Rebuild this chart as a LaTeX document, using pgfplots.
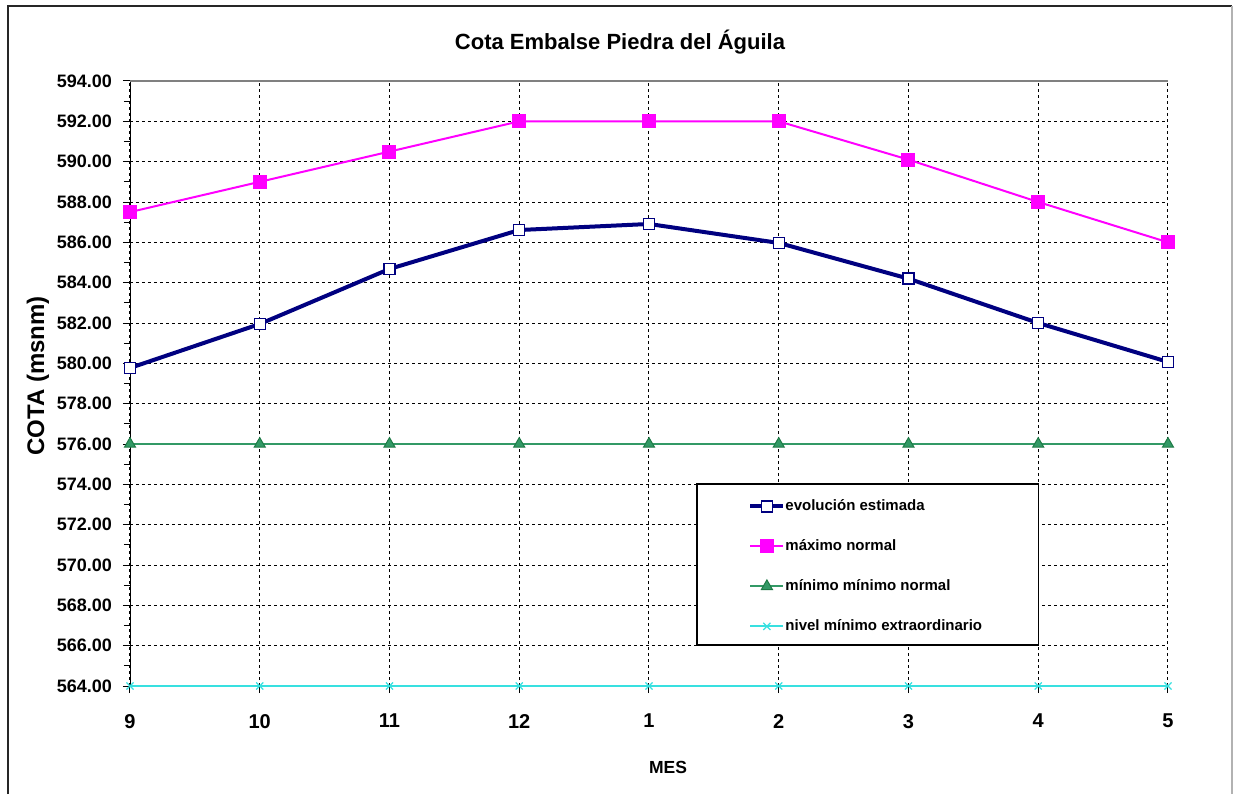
\documentclass[border=0pt]{standalone}
\usepackage{fontspec}
\setmainfont{Liberation Sans}
\usepackage{pgfplots}
\pgfplotsset{compat=1.18}
\definecolor{navyc}{HTML}{000080}
\definecolor{mag}{HTML}{FF00FF}
\definecolor{sea}{HTML}{339966}
\definecolor{seadark}{HTML}{1E7A46}
\definecolor{cy}{HTML}{38E0E0}
\begin{document}
\begin{tikzpicture}
\begin{axis}[name=ax, scale only axis, width=519pt, height=302.5pt,
  xmin=0, xmax=8, ymin=564, ymax=594, clip=false,
  xtick={0,...,8}, xticklabels={9,10,11,12,1,2,3,4,5},
  ytick={564,566,...,594}, minor y tick num=1,
  axis x line*=bottom, axis y line*=left,
  x axis line style={-}, y axis line style={-},
  tick align=outside, major tick length=3.5pt, minor tick length=3pt,
  tick style={black, line width=0.5pt},
  grid=major, major grid style={black, line width=0.5pt, dash pattern=on 1.5pt off 1.5pt},
  yticklabel style={font=\fontsize{9}{10}\selectfont\bfseries, xshift=-2pt,
     /pgf/number format/.cd, fixed, fixed zerofill, precision=2, assume math mode=true},
  xticklabel style={font=\fontsize{10}{11}\selectfont\bfseries, yshift=-7pt},
  legend style={draw=none, fill=none, at={(rel axis cs:0.5954,0.31)}, anchor=north west,
     inner sep=0pt, row sep=12.5pt, font=\fontsize{7.5}{9}\selectfont\bfseries,
     nodes={inner sep=0pt, text height=6pt, text depth=1.5pt}},
  legend cell align=left,
  legend image code/.code={\draw[mark repeat=2,mark phase=2,#1] plot coordinates {(0pt,0pt)(8.25pt,0pt)(16.5pt,0pt)};},
]
\draw[gray, line width=0.6pt] (axis cs:0,594) -- (axis cs:8,594);
\draw[black, fill=white, line width=0.6pt] (axis cs:4.37,566.03) rectangle (axis cs:7,574.02);
\addplot[navyc, line width=2pt, mark=square*, mark size=2.75pt, mark options={fill=white, draw=navyc, line width=0.7pt}]
 coordinates {(0,579.77)(1,581.95)(2,584.68)(3,586.61)(4,586.91)(5,585.97)(6,584.2)(7,582.0)(8,580.07)};
\addlegendentry{evolución estimada}
\addplot[mag, line width=1pt, mark=square*, mark size=3pt, mark options={fill=mag, draw=mag}]
 coordinates {(0,587.5)(1,589)(2,590.5)(3,592)(4,592)(5,592)(6,590.1)(7,588)(8,586)};
\addlegendentry{máximo normal}
\addplot[sea, line width=1pt, mark=triangle*, mark size=3.2pt, mark options={fill=sea, draw=seadark, line width=0.5pt}]
 coordinates {(0,576)(1,576)(2,576)(3,576)(4,576)(5,576)(6,576)(7,576)(8,576)};
\addlegendentry{mínimo mínimo normal}
\addplot[cy, line width=1pt, mark=x, mark size=2.5pt, mark options={draw=cy, line width=0.6pt}]
 coordinates {(0,564)(1,564)(2,564)(3,564)(4,564)(5,564)(6,564)(7,564)(8,564)};
\addlegendentry{nivel mínimo extraordinario}
\end{axis}
\begin{scope}[shift={(ax.south west)}, x=0.5pt, y=-0.5pt, shift={(-130,-686)}]
\useasboundingbox (0,0) rectangle (1233,794);
\draw[black!85, line width=0.8pt] (8,794) -- (8,6) -- (1232,6);
\draw[black!30, line width=0.6pt] (1232,6) -- (1232,794);
\node[font=\fontsize{11}{13}\selectfont\bfseries] at (620,42) {Cota Embalse Piedra del Águila};
\node[font=\fontsize{12}{14}\selectfont\bfseries, rotate=90] at (38,376) {COTA (msnm)};
\node[font=\fontsize{8.75}{10}\selectfont\bfseries] at (668,767) {MES};
\end{scope}
\end{tikzpicture}
\end{document}
